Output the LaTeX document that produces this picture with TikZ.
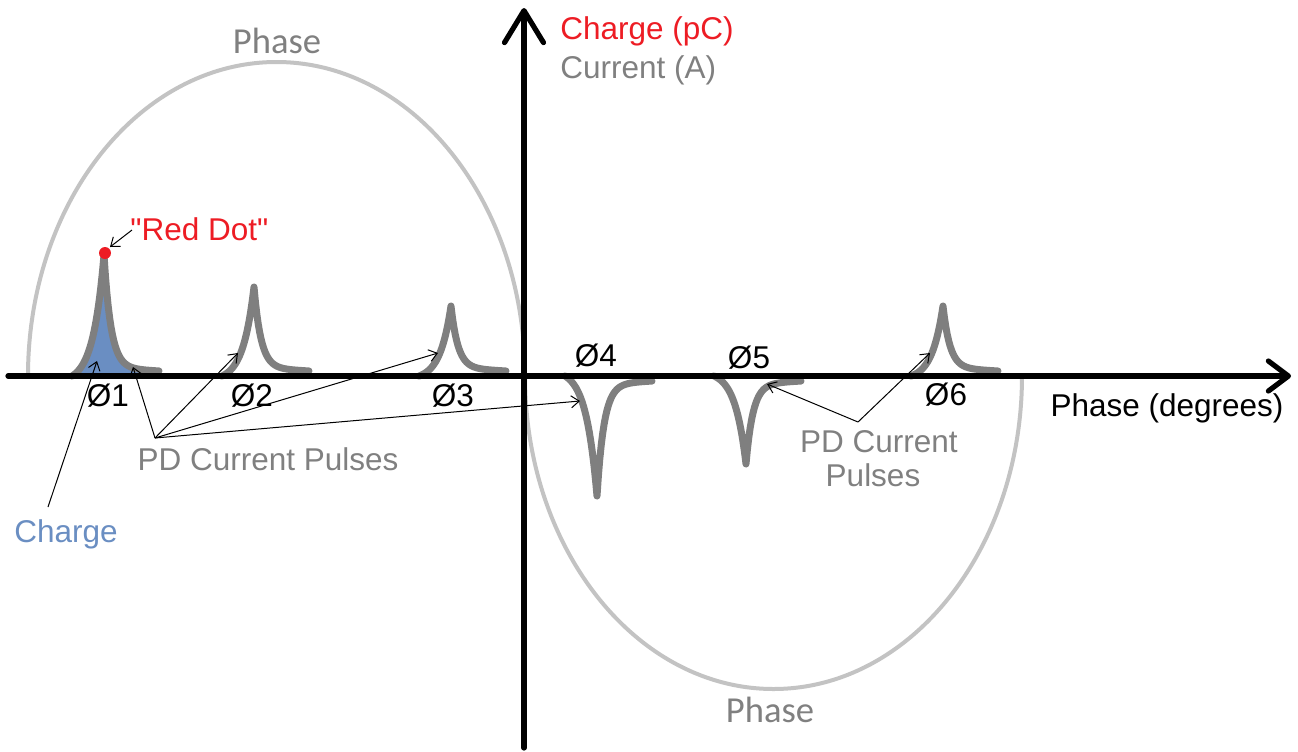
\documentclass[tikz,border=0pt]{standalone}
\usepackage{fontspec}
\setmainfont{Liberation Sans}
\newfontfamily\rawfont{Liberation Sans}
\newfontfamily\calfont{Carlito}
\usetikzlibrary{arrows.meta}
\definecolor{txtgray}{RGB}{128,128,128}
\definecolor{ellgray}{RGB}{195,195,195}
\definecolor{pulsegray}{RGB}{127,127,127}
\definecolor{dotred}{RGB}{237,28,36}
\definecolor{chargeblue}{RGB}{106,142,194}
\newcommand\pdpulse[2]{%
  \draw[pulse] plot[domain=-32:0,samples=30] ({#1+\x},{376-(#2)*(exp(\x/11)-0.055)/0.945})
    -- plot[domain=0:55,samples=40] ({#1+\x},{376-((#2)-sign(#2)*8)*exp(-\x/7)-sign(#2)*(8-3*\x/55)});
}
\begin{document}
\begin{tikzpicture}[x=0.5pt,y=-0.5pt,
  lbl/.style={inner sep=0pt,font=\fontsize{15.75}{18}\selectfont},
  callbl/.style={inner sep=0pt,font=\calfont\fontsize{18.3}{22}\selectfont,text=txtgray},
  axisline/.style={line width=2.6pt,black,line cap=round},
  ellarc/.style={line width=2pt,ellgray},
  pulse/.style={line width=3.5pt,pulsegray,line join=round,line cap=round},
  pointer/.style={line width=0.5pt,black,-{Straight Barb[length=4pt,width=6pt]}},
  plainline/.style={line width=0.5pt,black}]
\useasboundingbox (0,0) rectangle (1298,751);
% phase curve (two half ellipses)
\draw[ellarc] (28,376) arc[start angle=180,end angle=360,x radius=248.5,y radius=314];
\draw[ellarc] (525,376) arc[start angle=180,end angle=0,x radius=248.5,y radius=313];
% charge fill under first pulse
\fill[chargeblue] plot[domain=-32:0,samples=30] ({104+\x},{376-121*(exp(\x/11)-0.055)/0.945})
    -- plot[domain=0:36,samples=30] ({104+\x},{376-113*exp(-\x/7)-(8-3*\x/55)}) -- (140,376) -- cycle;
% pulses
\pdpulse{104}{121}
\pdpulse{254}{89}
\pdpulse{451}{70}
\pdpulse{597}{-120}
\pdpulse{746}{-88}
\pdpulse{943}{70}
% axes
\coordinate (xs) at (8,376);
\coordinate (xe) at (1291,376);
\coordinate (ys) at (524,748);
\coordinate (ye) at (524,8);
\draw[axisline,-{Straight Barb[length=10pt,width=15pt,line width=2.6pt,round]}] (xs) -- (xe);
\draw[axisline,-{Straight Barb[length=16pt,width=19.5pt,line width=2.6pt,round]}] (ys) -- (ye);
% red dot
\node[circle,fill=dotred,inner sep=0pt,minimum size=6pt] (rdot) at (105,253) {};
% labels
\node[callbl,anchor=base] (phaseTop) at (277,53) {Phase};
\node[callbl,anchor=base] (phaseBot) at (770,722) {Phase};
\node[lbl,anchor=base west,text=dotred] (chg) at (560,39) {Charge (pC)};
\node[lbl,anchor=base west,text=txtgray] (cur) at (560,78) {Current (A)};
\node[lbl,anchor=base west,text=dotred] (rdlbl) at (130,240) {\rawfont"Red Dot"};
\node[lbl,anchor=base,text=txtgray] (pdl) at (268,470) {PD Current Pulses};
\node[lbl,anchor=base,text=chargeblue] (chlbl) at (66,542) {Charge};
\node[lbl,anchor=base,text=txtgray] (pdr1) at (879,452) {PD Current};
\node[lbl,anchor=base,text=txtgray] (pdr2) at (873,486) {Pulses};
\node[lbl,anchor=base] (xlbl) at (1167,416) {Phase (degrees)};
\node[lbl,anchor=base] (p1) at (108,406) {Ø1};
\node[lbl,anchor=base] (p2) at (252,406) {Ø2};
\node[lbl,anchor=base] (p3) at (453,406) {Ø3};
\node[lbl,anchor=base] (p4) at (596,366) {Ø4};
\node[lbl,anchor=base] (p5) at (749,368) {Ø5};
\node[lbl,anchor=base] (p6) at (946,405) {Ø6};
% pointer coordinates
\coordinate (rdS) at (132,230);
\coordinate (rdE) at (110,247);
\coordinate (chS) at (48,507);
\coordinate (chE) at (97,361);
\coordinate (pdLo) at (155,438);
\coordinate (t1) at (133,367);
\coordinate (t2) at (238,353);
\coordinate (t3) at (438,353);
\coordinate (t4) at (580,401);
\coordinate (pdRo) at (858,422);
\coordinate (t5) at (767,384);
\coordinate (t6) at (930,353);
\draw[pointer] (rdS) -- (rdE);
\draw[pointer] (chS) -- (chE);
\draw[pointer] (pdLo) -- (t1);
\draw[pointer] (pdLo) -- (t2);
\draw[pointer] (pdLo) -- (t3);
\draw[pointer] (pdLo) -- (t4);
\draw[pointer] (pdRo) -- (t5);
\draw[pointer] (pdRo) -- (t6);
\end{tikzpicture}
\end{document}
